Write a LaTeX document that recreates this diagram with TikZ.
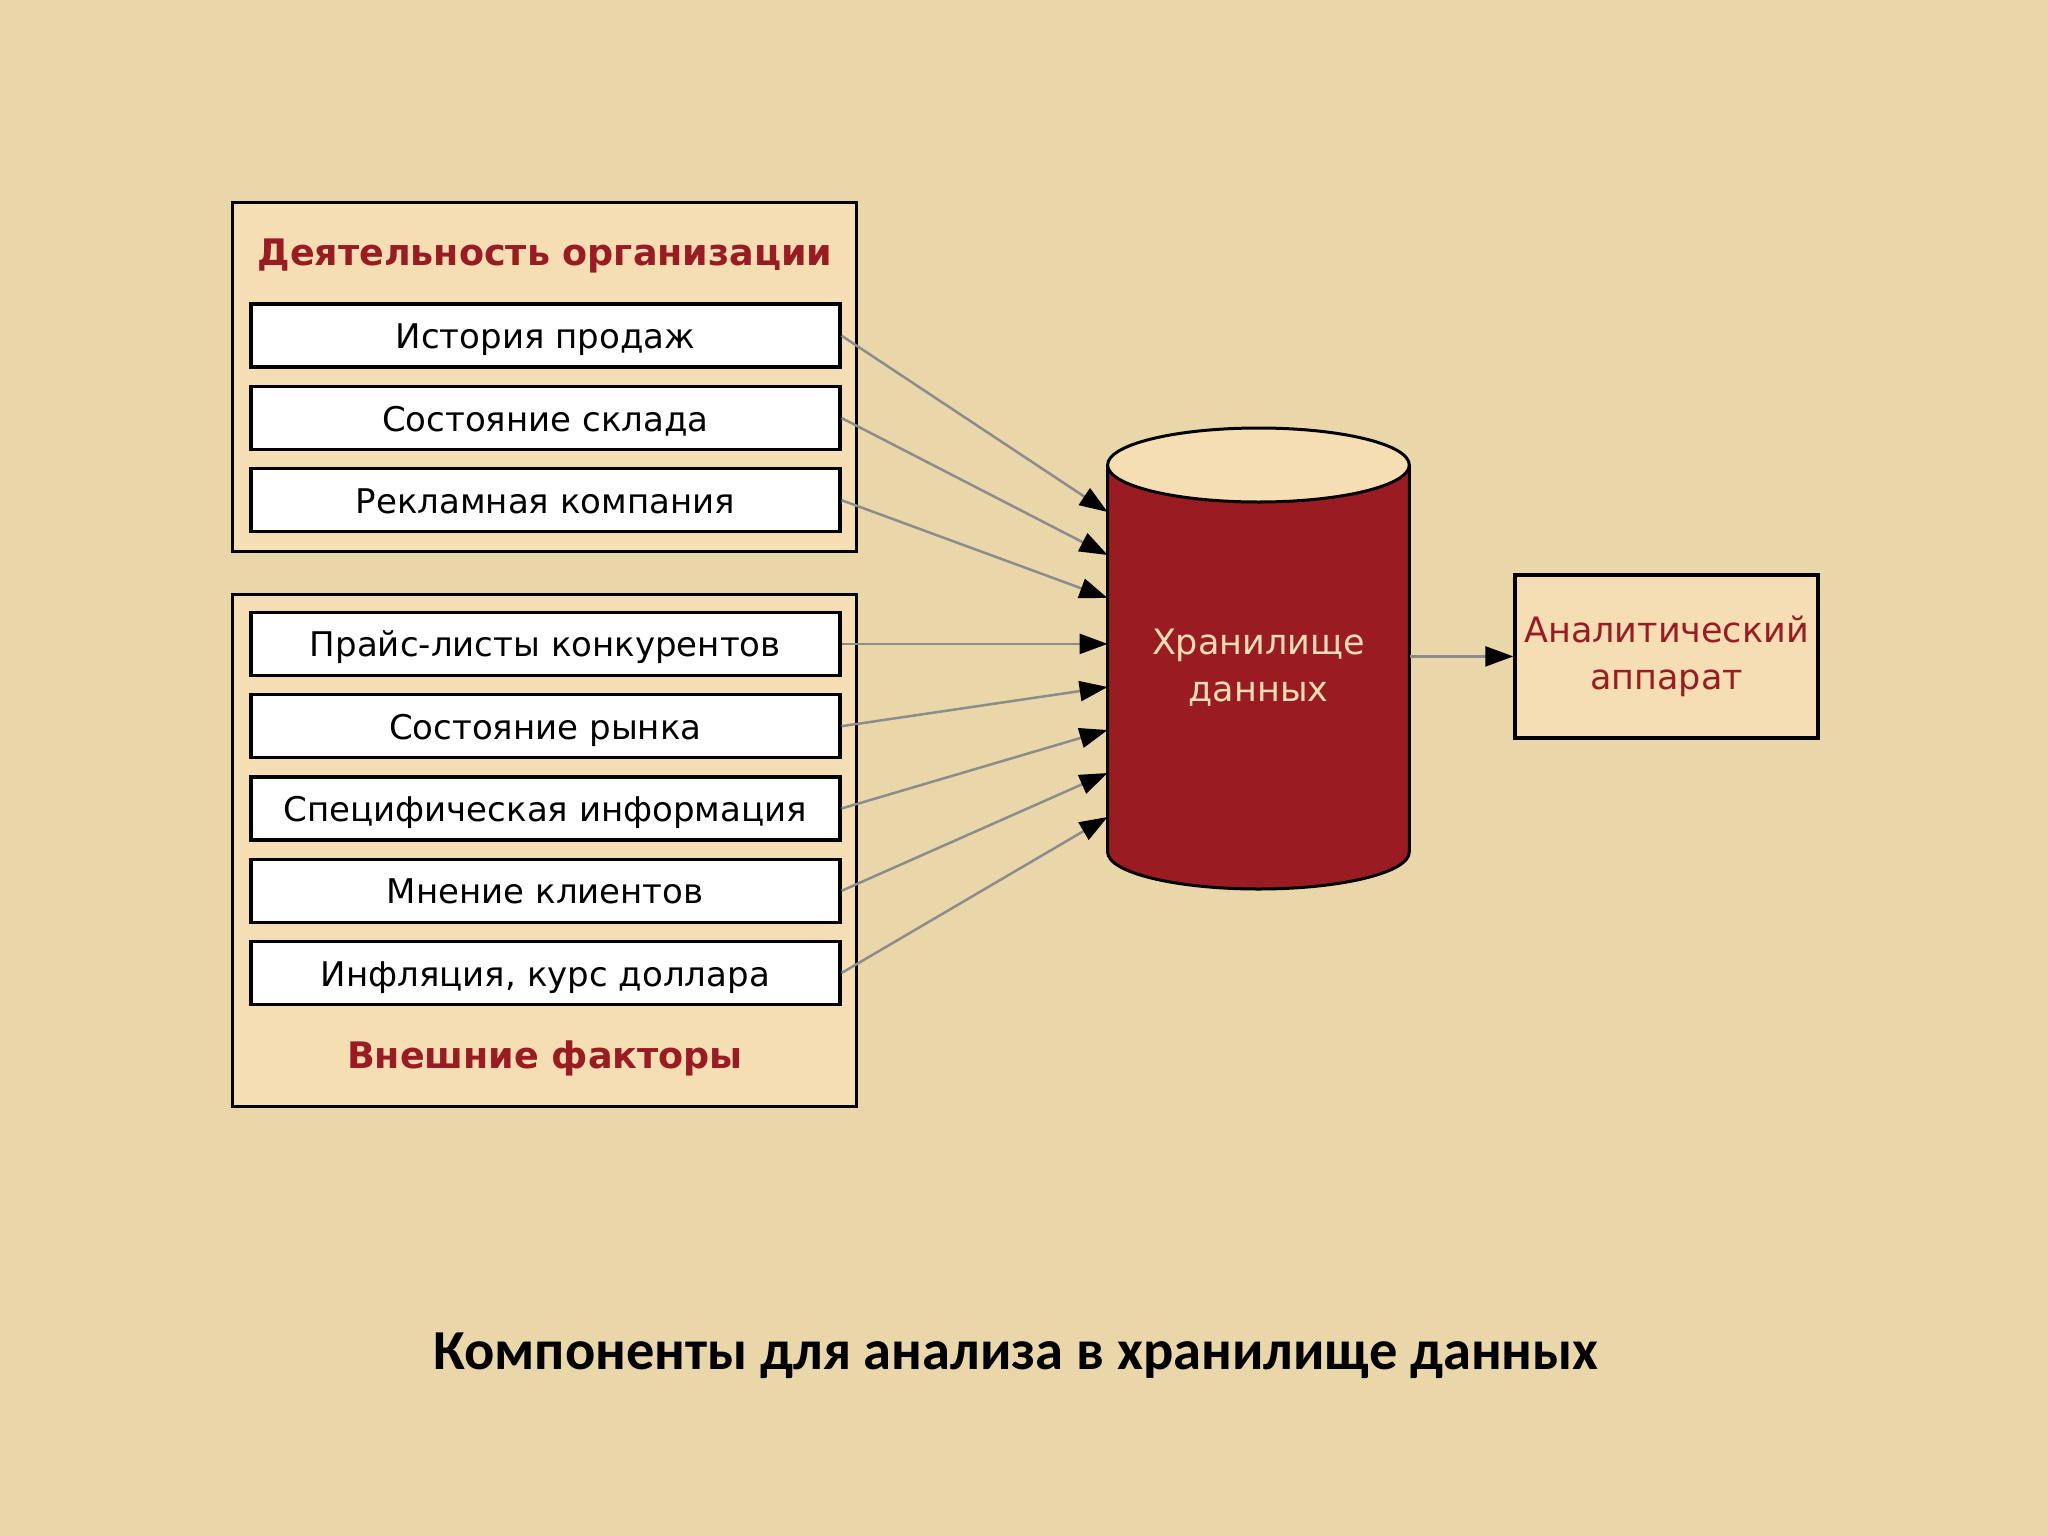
\documentclass[tikz,border=0pt]{standalone}
\usepackage{fontspec}
\setmainfont{DejaVu Sans}
\newfontfamily\capfont{Carlito}
\usetikzlibrary{arrows.meta,calc}
\definecolor{bgcol}{HTML}{EAD7A9}
\definecolor{wheatc}{HTML}{F5DEB3}
\definecolor{darkred}{HTML}{9A1B22}
\definecolor{linegray}{HTML}{8C8C8C}
\begin{document}
\begin{tikzpicture}[x=1pt,y=-1pt,
  grp/.style={draw=black,line width=3.5pt,fill=wheatc,inner sep=0pt},
  item/.style={draw=black,line width=3.5pt,fill=white,minimum width=589pt,minimum height=63pt,inner sep=0pt,text height=26pt,text depth=0pt,font=\fontsize{34}{40}\selectfont},
  ttl/.style={text=darkred,text height=26pt,text depth=0pt,font=\fontsize{36.5}{40}\selectfont\bfseries},
  arr/.style={draw=linegray,line width=2.5pt,-{Triangle[length=28pt,width=20pt,fill=black,color=black]}},
]
\fill[bgcol] (0,0) rectangle (2048,1536);
\useasboundingbox (0,0) rectangle (2048,1536);

% group boxes
\node[grp,minimum width=624pt,minimum height=349pt] (g1) at (544.7,376.8) {};
\node[grp,minimum width=624pt,minimum height=512pt] (g2) at (544.7,850.3) {};
\node[ttl] (t1) at (545,252) {Деятельность организации};
\node[ttl] (t2) at (545,1055) {Внешние факторы};

% items
\node[item] (b1) at (545.3,335.7) {История продаж};
\node[item] (b2) at (545.3,418.0) {Состояние склада};
\node[item] (b3) at (545.3,500.2) {Рекламная компания};
\node[item] (b4) at (545.3,643.9) {Прайс-листы конкурентов};
\node[item] (b5) at (545.3,726.2) {Состояние рынка};
\node[item] (b6) at (545.3,808.5) {Специфическая информация};
\node[item] (b7) at (545.3,890.8) {Мнение клиентов};
\node[item] (b8) at (545.3,973.0) {Инфляция, курс доллара};

% cylinder
\fill[darkred] (1107.6,465) -- (1107.6,852) arc[start angle=180,end angle=360,x radius=150.85,y radius=-37] -- (1409.3,465) -- cycle;
\draw[line width=3pt] (1107.6,465) -- (1107.6,852) arc[start angle=180,end angle=360,x radius=150.85,y radius=-37] -- (1409.3,465);
\draw[line width=3pt,fill=wheatc] (1258.45,465) ellipse[x radius=150.85,y radius=37];
\node[minimum width=301.7pt,minimum height=387pt,inner sep=0pt] (store) at (1258.45,658.5) {};
\node[text=wheatc,align=center,font=\fontsize{35}{47}\selectfont] (storetxt) at (1258.45,668) {Хранилище\\данных};

% analytic
\node[draw=black,line width=3.5pt,fill=wheatc,minimum width=303pt,minimum height=163pt,inner sep=0pt,align=center,text=darkred,font=\fontsize{35}{47}\selectfont] (ana) at (1666.5,656.4) {Аналитический\\аппарат};

% arrow end points
\coordinate (e1) at (1107.6,512);
\coordinate (e2) at (1107.6,555);
\coordinate (e3) at (1107.6,598);
\coordinate (e4) at (1107.6,643.9);
\coordinate (e5) at (1107.6,687);
\coordinate (e6) at (1107.6,730);
\coordinate (e7) at (1107.6,773);
\coordinate (e8) at (1107.6,817);
\foreach \i in {1,...,8} {\draw[arr] (b\i.east) -- (e\i);}
\draw[arr] (store.east |- ana.west) -- (ana.west);

% caption
\node[font=\capfont\bfseries\fontsize{56.5}{64}\selectfont] (cap) at (1016,1356) {Компоненты для анализа в хранилище данных};
\end{tikzpicture}
\end{document}
